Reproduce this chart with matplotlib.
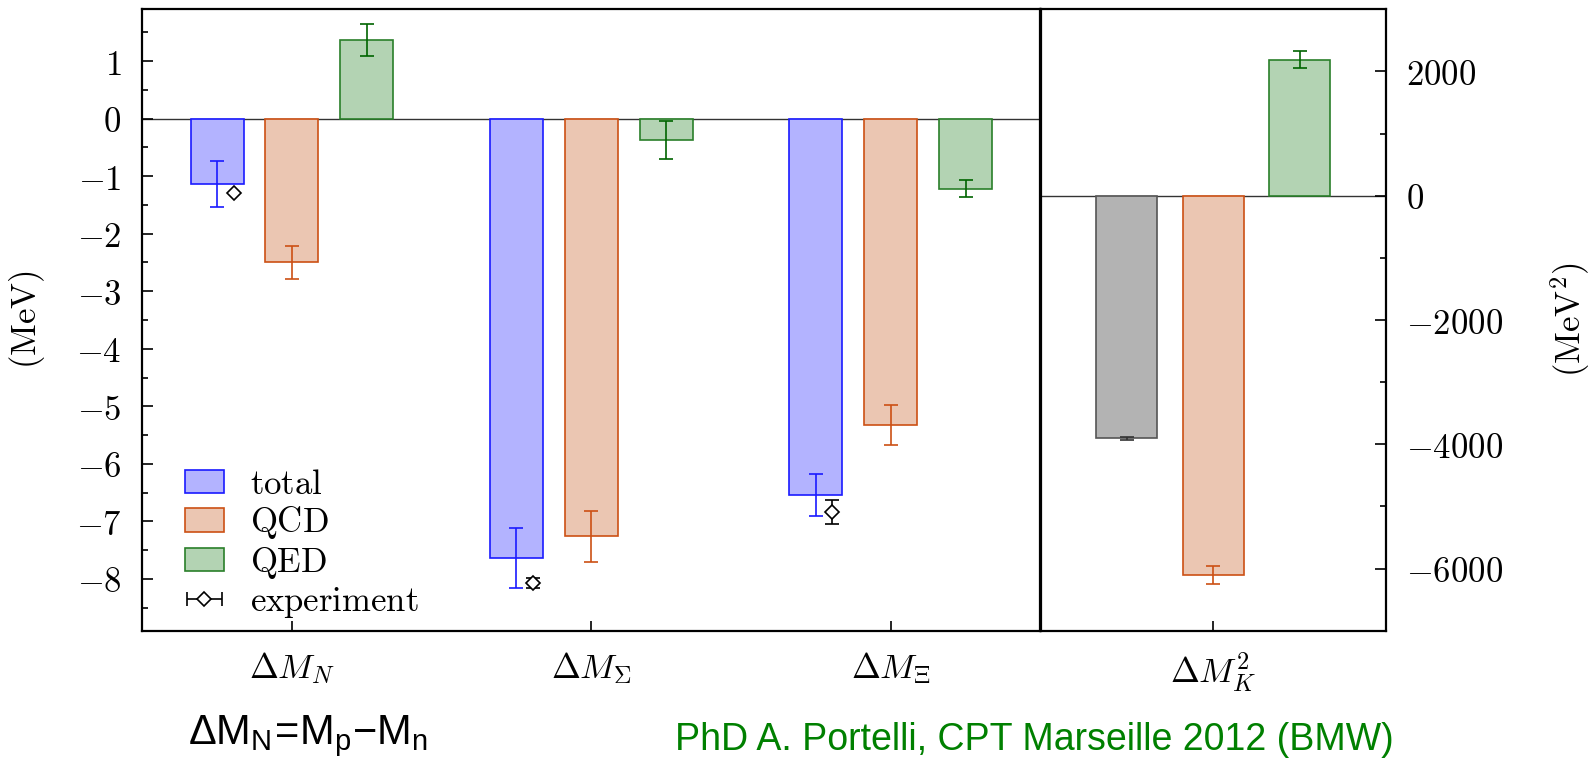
import numpy as np
import matplotlib
matplotlib.use("Agg")
import matplotlib.pyplot as plt
from matplotlib.ticker import MultipleLocator

plt.rcParams["mathtext.fontset"] = "cm"
plt.rcParams["font.family"] = ["DejaVu Serif"]
# sans math for the footer formula
plt.rcParams["mathtext.rm"] = "Liberation Sans"
plt.rcParams["mathtext.it"] = "Liberation Sans"

# isospin splittings of the baryons (MeV)
baryons = [r"$\Delta M_N$", r"$\Delta M_\Sigma$", r"$\Delta M_\Xi$"]
total = [-1.14, -7.64, -6.54]
total_err = [0.40, 0.52, 0.36]
qcd = [-2.50, -7.26, -5.32]
qcd_err = [0.28, 0.44, 0.35]
qed = [1.37, -0.37, -1.22]
qed_err = [0.28, 0.33, 0.15]
expt = [-1.29, -8.07, -6.84]
expt_err = [0.0, 0.08, 0.21]

# kaon splitting (MeV^2)
kaon = [r"$\Delta M_K^2$"]
kaon_total = [-3900]
kaon_total_err = [25]
kaon_qcd = [-6105]
kaon_qcd_err = [148]
kaon_qed = [2190]
kaon_qed_err = [137]

blue_fill, blue_edge = "#b3b3ff", "#1a1aff"
qcd_fill, qcd_edge = "#ebc6b2", "#cc5014"
qed_fill, qed_edge = "#b3d3b3", "#2a7f2a"
qed_err_c = "#006400"
grey_fill, grey_edge = "#b3b3b3", "#555555"

fs = 25
w = 0.177
d = 0.25
ekw = dict(fmt="none", capsize=5, elinewidth=1.2, capthick=1.2, zorder=4)

fig = plt.figure(figsize=(15.91, 7.61), dpi=100)
ax = fig.add_axes([0.0894, 0.1712, 0.5645, 0.8166])
ax2 = fig.add_axes([0.654, 0.1712, 0.2172, 0.8166])

x = np.arange(len(baryons))
ax.axhline(0, color="#333333", lw=1.0, zorder=1)
b1 = ax.bar(x - d, total, w, color=blue_fill, edgecolor=blue_edge, lw=1.2, zorder=2)
b2 = ax.bar(x, qcd, w, color=qcd_fill, edgecolor=qcd_edge, lw=1.2, zorder=2)
b3 = ax.bar(x + d, qed, w, color=qed_fill, edgecolor=qed_edge, lw=1.2, zorder=2)
ax.errorbar(x - d, total, yerr=total_err, ecolor=blue_edge, **ekw)
ax.errorbar(x, qcd, yerr=qcd_err, ecolor=qcd_edge, **ekw)
ax.errorbar(x + d, qed, yerr=qed_err, ecolor=qed_err_c, **ekw)
ax.errorbar(x - d + 0.055, expt, yerr=expt_err, fmt="D", ms=7, mfc="white", mec="black",
            mew=1.2, ecolor="black", capsize=5, elinewidth=1.2, capthick=1.2, zorder=5)

# horizontal bar for the legend entry of the measurements
proxy = ax.errorbar([np.nan], [np.nan], xerr=[1], fmt="D", ms=7, mfc="white", mec="black",
                    mew=1.2, ecolor="black", capsize=5, elinewidth=1.2, capthick=1.2)

ax.set_xlim(-0.5, 2.5)
ax.set_ylim(-8.9, 1.9)
ax.set_xticks(x)
ax.set_xticklabels(baryons, fontsize=fs)
yt = np.arange(-8, 2)
ax.set_yticks(yt)
ax.set_yticklabels([r"$%d$" % v for v in yt], fontsize=fs)
ax.yaxis.set_minor_locator(MultipleLocator(0.5))
ax.tick_params(which="both", direction="in", top=False, right=False, width=1.2)
ax.tick_params(axis="y", which="major", length=8, pad=15)
ax.tick_params(axis="y", which="minor", length=4)
ax.tick_params(axis="x", length=7, pad=14)
ax.set_ylabel(r"$(\mathrm{MeV})$", fontsize=fs)
ax.yaxis.set_label_coords(-0.128, 0.5)
ax.yaxis.label.set_va("center")

ax.legend([b1, b2, b3, proxy],
          [r"$\mathrm{total}$", r"$\mathrm{QCD}$", r"$\mathrm{QED}$", r"$\mathrm{experiment}$"],
          loc="lower left", bbox_to_anchor=(0.048, 0.017), frameon=False, fontsize=fs,
          handlelength=1.1, handleheight=0.65, handletextpad=0.75, labelspacing=0.1,
          borderpad=0, borderaxespad=0)

# kaon panel
k = np.arange(len(kaon))
ax2.axhline(0, color="#333333", lw=1.0, zorder=1)
ax2.bar(k - d, kaon_total, w, color=grey_fill, edgecolor=grey_edge, lw=1.2, zorder=2)
ax2.bar(k, kaon_qcd, w, color=qcd_fill, edgecolor=qcd_edge, lw=1.2, zorder=2)
ax2.bar(k + d, kaon_qed, w, color=qed_fill, edgecolor=qed_edge, lw=1.2, zorder=2)
ax2.errorbar(k - d, kaon_total, yerr=kaon_total_err, ecolor="#333333", **ekw)
ax2.errorbar(k, kaon_qcd, yerr=kaon_qcd_err, ecolor=qcd_edge, **ekw)
ax2.errorbar(k + d, kaon_qed, yerr=kaon_qed_err, ecolor=qed_err_c, **ekw)

ax2.set_xlim(-0.5, 0.5)
ax2.set_ylim(-7000, 3000)
ax2.set_xticks(k)
ax2.set_xticklabels(kaon, fontsize=fs)
yt2 = np.arange(-6000, 2001, 2000)
ax2.yaxis.tick_right()
ax2.set_yticks(yt2)
ax2.set_yticklabels([r"$%d$" % v for v in yt2], fontsize=fs)
ax2.yaxis.set_minor_locator(MultipleLocator(1000))
ax2.tick_params(which="both", direction="in", top=False, left=False, right=True, width=1.2)
ax2.tick_params(axis="y", which="major", length=8, pad=14)
ax2.tick_params(axis="y", which="minor", length=4)
ax2.tick_params(axis="x", length=7, pad=14)
ax2.set_ylabel(r"$(\mathrm{MeV}^2)$", fontsize=fs)
ax2.yaxis.set_label_position("right")
ax2.yaxis.set_label_coords(1.532, 0.5)
ax2.yaxis.label.set_va("center")

for a in (ax, ax2):
    for s in a.spines.values():
        s.set_linewidth(1.6)

fig.text(0.118, 0.022, r"$\mathrm{ΔM_N\!=\!M_p{-}M_n}$", math_fontfamily="custom",
         fontsize=30, va="baseline")
fig.text(0.424, 0.015, "PhD A. Portelli, CPT Marseille 2012 (BMW)",
         family=["Liberation Sans Narrow", "Liberation Sans"],
         fontsize=27, color="#008000", va="baseline")

fig.savefig("out.png", dpi=100)
